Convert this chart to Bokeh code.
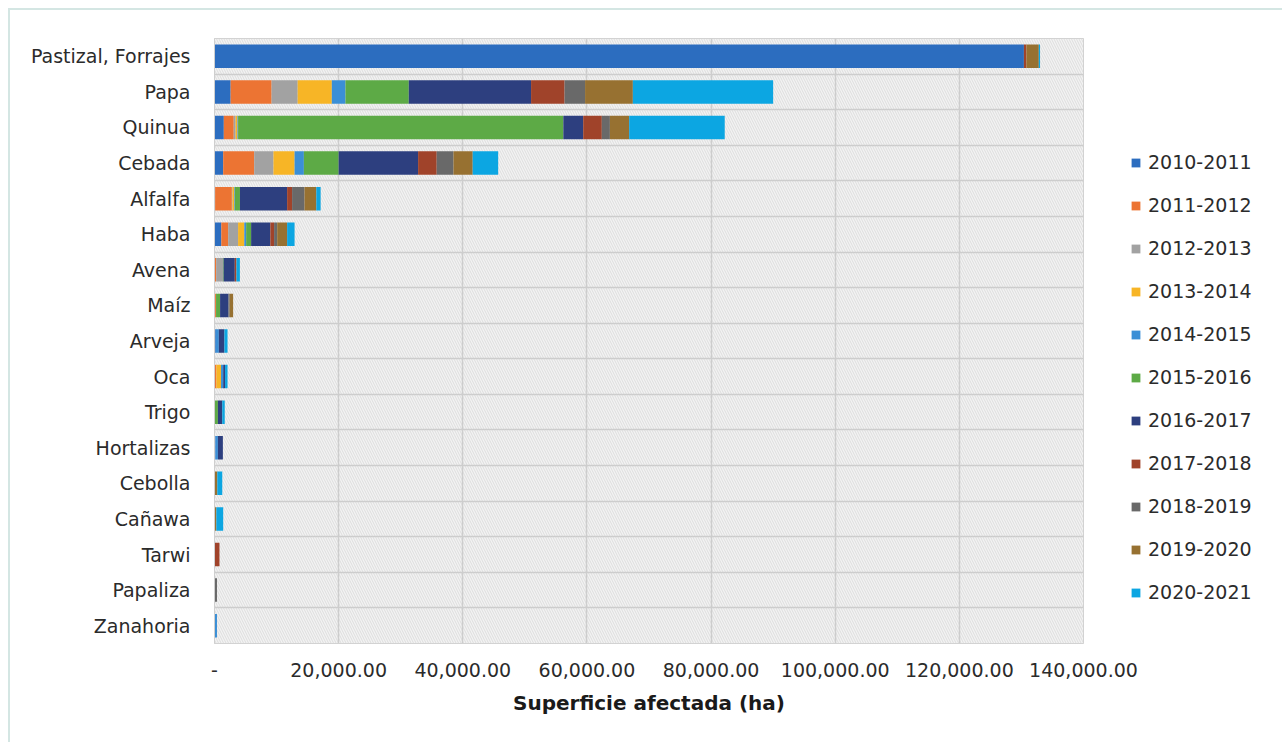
from bokeh.plotting import figure
from bokeh.models import (ColumnDataSource, FixedTicker, NumeralTickFormatter,
                          Legend, LegendItem, BoxAnnotation, Range1d, InlineStyleSheet)
from bokeh.embed import file_html
from bokeh.resources import INLINE

crops = ["Pastizal, Forrajes", "Papa", "Quinua", "Cebada", "Alfalfa", "Haba",
         "Avena", "Maíz", "Arveja", "Oca", "Trigo", "Hortalizas", "Cebolla",
         "Cañawa", "Tarwi", "Papaliza", "Zanahoria"]

years = ["2010-2011", "2011-2012", "2012-2013", "2013-2014", "2014-2015",
         "2015-2016", "2016-2017", "2017-2018", "2018-2019", "2019-2020",
         "2020-2021"]

#          Past    Papa   Quin   Ceba   Alfa  Haba  Aven  Maiz Arve Oca Trig Hort Cebo Caña Tarw Papl Zana
v2010 = [130400,  2600,  1500,  1400,  100, 1100,    0,  100, 200,   0,   0, 150,   0,   0,   0,   0,   0]
v2011 = [     0,  6600,  1600,  5000, 2700, 1100,  270,  150,   0, 300,   0,   0,   0,   0,   0,   0,   0]
v2012 = [     0,  4200,   300,  3100,  100, 1600, 1100,    0,   0,   0,   0,   0,   0,   0,   0,   0,   0]
v2013 = [     0,  5500,   300,  3400,  300, 1000,    0,    0,   0, 750,   0,   0,   0,   0,   0,   0,   0]
v2014 = [     0,  2200,   100,  1500,  100,  300,    0,    0, 500, 350,   0, 400,   0,   0,   0,   0, 400]
v2015 = [     0, 10200, 52400,  5600,  800,  800,  100,  650,   0,   0, 550,   0,   0,   0,   0,   0,   0]
v2016 = [     0, 19700,  3200, 12800, 7600, 3100, 1800, 1350, 900, 300, 700, 800,   0,   0,   0,   0,   0]
v2017 = [   400,  5400,  3000,  3000,  800,  600,  270,    0,   0,   0,   0,   0,   0,   0, 800,   0,   0]
v2018 = [     0,  3300,  1300,  2700, 2000,  500,    0,  200,   0,   0,   0,   0,   0,   0,   0, 400,   0]
v2019 = [  2000,  7700,  3100,  3100, 1900, 1600,    0,  550,   0,   0,   0,   0, 450, 300,   0,   0,   0]
v2020 = [   200, 22600, 15400,  4100,  700, 1200,  550,    0, 500, 400, 400,   0, 800, 1100,  0,   0,   0]

series = [v2010, v2011, v2012, v2013, v2014, v2015, v2016, v2017, v2018, v2019, v2020]

colors = ["#2C6DBF", "#EC7433", "#A2A2A2", "#F7B526", "#3B8FD6", "#5DAA46",
          "#2D3F7F", "#A0432A", "#696969", "#977131", "#0CA6E2"]

x_ticks = [0, 20000, 40000, 60000, 80000, 100000, 120000, 140000]
x_max = 140000

FONT = "DejaVu Sans"

data = {"pos": list(range(len(crops)))}
for yr, vals in zip(years, series):
    data[yr] = vals
source = ColumnDataSource(data)

p = figure(frame_width=869, frame_height=605, width=1282, height=742,
           min_border_left=214, min_border_top=38, min_border_right=199,
           min_border_bottom=99,
           x_range=Range1d(0, x_max), y_range=Range1d(len(crops) - 0.5, -0.5),
           output_backend="svg", toolbar_location=None)
p.background_fill_color = "#f4f4f4"
p.border_fill_color = "white"
p.outline_line_color = "#cfcfcf"
p.outline_line_width = 1
p.stylesheets = [InlineStyleSheet(css=(
    ":host::after { content: ''; position: absolute; left: 8px; top: 8px; "
    "width: 1290px; height: 750px; border-left: 2px solid #d4e6e3; "
    "border-top: 2px solid #d4e6e3; pointer-events: none; }"))]

bg = BoxAnnotation(level="image", fill_color="#f2f2f2", line_color=None,
                   hatch_pattern="left_diagonal_line", hatch_color="#d8d8d8",
                   hatch_scale=5, hatch_weight=0.8)
p.add_layout(bg)

renderers = p.hbar_stack(years, y="pos", height=0.66, color=colors,
                         line_color=None, source=source)

# grids
p.xgrid.ticker = FixedTicker(ticks=x_ticks)
p.xgrid.grid_line_color = "#cdcdcd"
p.xgrid.grid_line_width = 1.5
p.ygrid.ticker = FixedTicker(ticks=[i + 0.5 for i in range(len(crops) - 1)])
p.ygrid.grid_line_color = "#cdcdcd"
p.ygrid.grid_line_width = 1.5

# y axis
p.yaxis.ticker = FixedTicker(ticks=list(range(len(crops))))
p.yaxis.major_label_overrides = {i: c for i, c in enumerate(crops)}
p.yaxis.axis_line_color = "#cfcfcf"
p.yaxis.major_tick_line_color = None
p.yaxis.minor_tick_line_color = None
p.yaxis.major_label_standoff = 18
p.yaxis.major_label_text_font = FONT
p.yaxis.major_label_text_font_size = "19px"
p.yaxis.major_label_text_color = "#2b2b2b"

# x axis
p.xaxis.ticker = FixedTicker(ticks=x_ticks)
p.xaxis.formatter = NumeralTickFormatter(format="0,0.00")
p.xaxis.major_label_overrides = {0: "-"}
p.xaxis.axis_line_color = None
p.xaxis.major_tick_line_color = None
p.xaxis.minor_tick_line_color = None
p.xaxis.major_label_standoff = 13
p.xaxis.major_label_text_font = FONT
p.xaxis.major_label_text_font_size = "19px"
p.xaxis.major_label_text_color = "#2b2b2b"
p.xaxis.axis_label = "Superficie afectada (ha)"
p.xaxis.axis_label_text_font = FONT
p.xaxis.axis_label_text_font_size = "20px"
p.xaxis.axis_label_text_font_style = "bold"
p.xaxis.axis_label_text_color = "#1a1a1a"
p.xaxis.axis_label_standoff = 11

items = [LegendItem(label=yr, renderers=[r]) for yr, r in zip(years, renderers)]
legend = Legend(items=items, location=(47, 40), orientation="vertical",
                border_line_color=None, background_fill_alpha=0,
                padding=0, margin=0, spacing=21,
                glyph_width=11, glyph_height=11, label_height=11,
                label_standoff=7, label_text_font=FONT,
                label_text_font_size="19px", label_text_color="#2b2b2b")
p.add_layout(legend, "right")

open("out.html", "w").write(file_html(p, INLINE))
